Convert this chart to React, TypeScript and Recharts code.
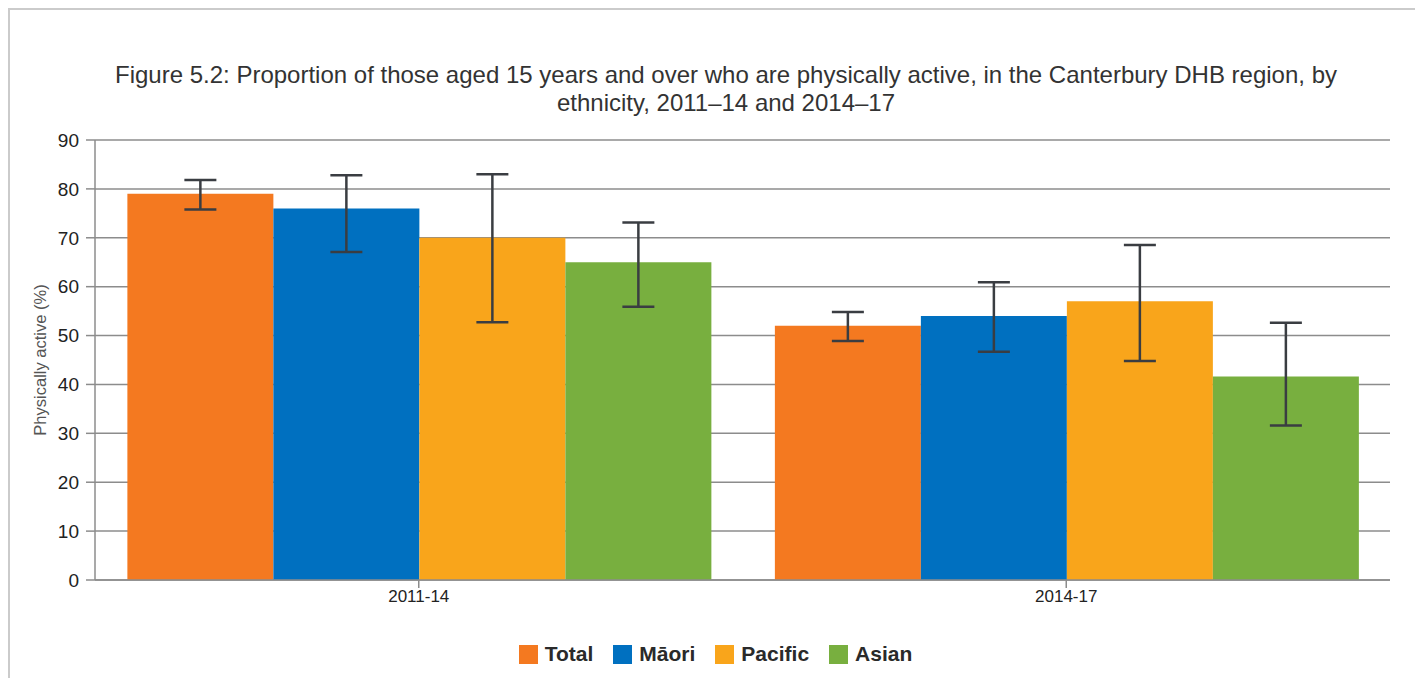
import React from 'react';
import { BarChart, Bar, XAxis, YAxis, CartesianGrid, Legend, ErrorBar } from 'recharts';

const categories = ['2011-14', '2014-17'];
const seriesNames = ['Total', 'Māori', 'Pacific', 'Asian'];
const seriesColors = ['#F47920', '#0070C0', '#F9A51B', '#78AF3F'];

const totalValues = [79, 52];
const totalLow = [75.8, 48.9];
const totalHigh = [81.8, 54.8];

const maoriValues = [76, 54];
const maoriLow = [67.1, 46.7];
const maoriHigh = [82.8, 60.9];

const pacificValues = [70, 57];
const pacificLow = [52.7, 44.8];
const pacificHigh = [83, 68.5];

const asianValues = [65, 41.6];
const asianLow = [55.9, 31.6];
const asianHigh = [73.1, 52.6];

const yTicks = [0, 10, 20, 30, 40, 50, 60, 70, 80, 90];

const seriesValues = [totalValues, maoriValues, pacificValues, asianValues];
const seriesLow = [totalLow, maoriLow, pacificLow, asianLow];
const seriesHigh = [totalHigh, maoriHigh, pacificHigh, asianHigh];

const data = categories.map((c, i) => {
  const row: any = { category: c };
  seriesNames.forEach((s, k) => {
    const v = seriesValues[k][i];
    row[s] = v;
    row[s + '_err'] = [v - seriesLow[k][i], seriesHigh[k][i] - v];
  });
  return row;
});

const FONT = 'Liberation Sans, Arial, sans-serif';

const LegendContent = (props: any) => {
  const payload = [...(props.payload || [])].sort(
    (a: any, b: any) => seriesNames.indexOf(a.value) - seriesNames.indexOf(b.value)
  );
  return (
    <div style={{ display: 'flex', justifyContent: 'center', alignItems: 'center', height: 28, fontFamily: FONT }}>
      {payload.map((p: any, i: number) => (
        <div key={i} style={{ display: 'flex', alignItems: 'center', marginRight: i < payload.length - 1 ? 20 : 0 }}>
          <div style={{ width: 19, height: 19, background: p.color, marginRight: 7 }} />
          <span style={{ fontSize: 21, fontWeight: 'bold', color: '#2a2a2a' }}>{p.value}</span>
        </div>
      ))}
    </div>
  );
};

export default function App() {
  return (
    <div style={{ position: 'relative', width: 1415, height: 670, fontFamily: FONT }}>
      <div style={{ position: 'absolute', left: 0, top: 0, width: 1415, height: 670, borderTop: '2px solid #cbcbcb', borderLeft: '2px solid #cbcbcb', boxSizing: 'border-box' }} />
      <div style={{ position: 'absolute', left: 18, top: 53, width: 1400, textAlign: 'center', fontSize: 24, lineHeight: '28px', color: '#333', whiteSpace: 'nowrap' }}>
        Figure 5.2: Proportion of those aged 15 years and over who are physically active, in the Canterbury DHB region, by
        <br />
        ethnicity, 2011–14 and 2014–17
      </div>
      <div style={{ position: 'absolute', left: 0, top: 0 }}>
        <BarChart
          width={1415}
          height={670}
          data={data}
          margin={{ top: 132, right: 33, bottom: 10, left: 0 }}
          barCategoryGap="5%"
          barGap={0}
        >
          <CartesianGrid vertical={false} stroke="#8c8c8c" strokeWidth={1.5} />
          <XAxis
            dataKey="category"
            height={60}
            stroke="#8c8c8c"
            strokeWidth={1.5}
            tickSize={8}
            tickMargin={2}
            tick={{ fill: '#222', fontSize: 17, fontFamily: FONT }}
          />
          <YAxis
            width={87}
            domain={[0, 90]}
            ticks={yTicks}
            interval={0}
            stroke="#8c8c8c"
            strokeWidth={1.5}
            tickSize={9}
            tickMargin={7}
            tick={{ fill: '#222', fontSize: 19, fontFamily: FONT }}
            label={{ value: 'Physically active (%)', angle: -90, position: 'insideLeft', offset: 32, style: { textAnchor: 'middle', fill: '#555', fontSize: 16.5, fontFamily: FONT } }}
          />
          <Legend verticalAlign="bottom" content={<LegendContent />} wrapperStyle={{ left: 0, width: 1415 }} />
          {seriesNames.map((s, k) => (
            <Bar key={s} dataKey={s} name={s} fill={seriesColors[k]} isAnimationActive={false}>
              <ErrorBar dataKey={s + '_err'} width={16} stroke="#3a3d42" strokeWidth={2.5} direction="y" />
            </Bar>
          ))}
        </BarChart>
      </div>
    </div>
  );
}
